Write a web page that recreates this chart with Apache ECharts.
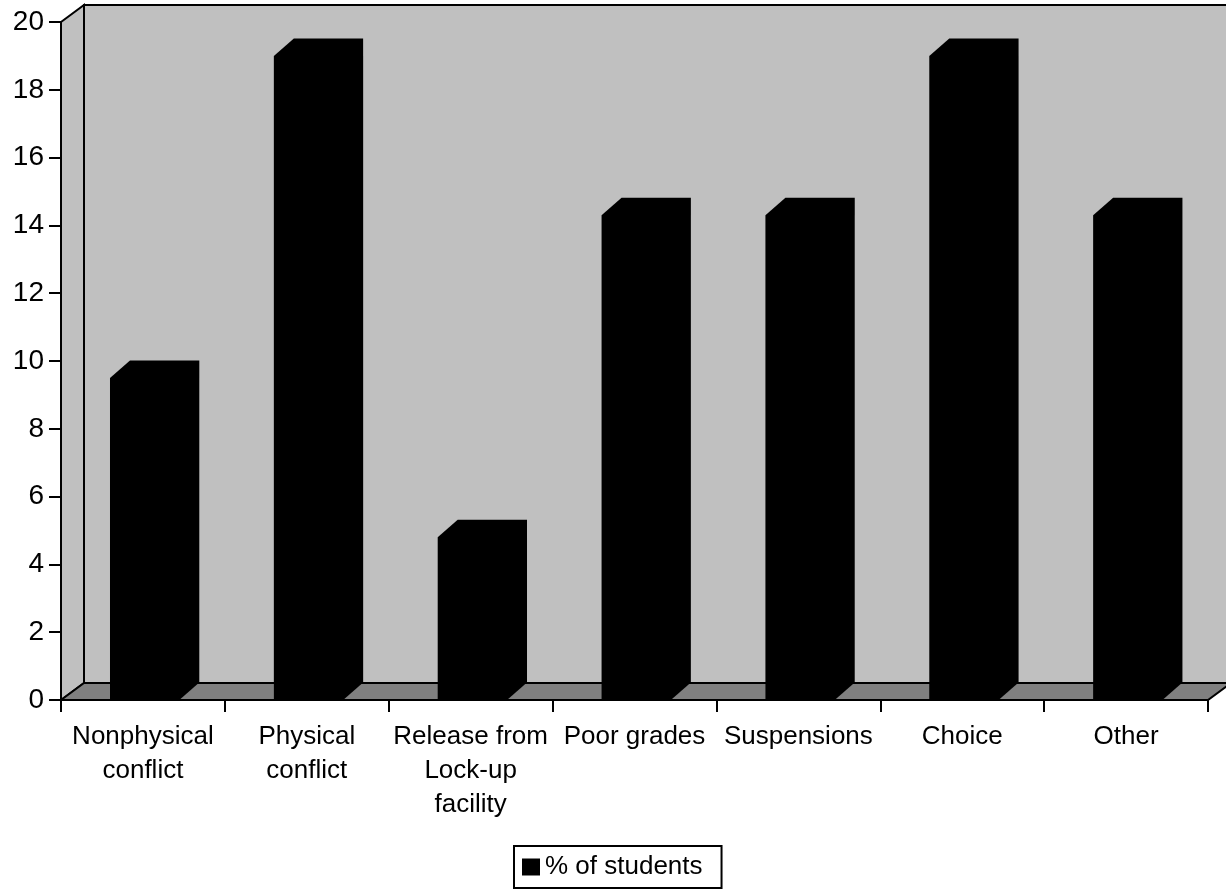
<!DOCTYPE html>
<html>
<head>
<meta charset="utf-8">
<title>% of students</title>
<script src="https://cdn.jsdelivr.net/npm/echarts@6/dist/echarts.min.js"></script>
<style>
  html, body { margin: 0; padding: 0; background: #ffffff; }
  #chart { width: 1226px; height: 894px; }
</style>
</head>
<body>
<div id="chart"></div>
<script>
// Categories along the x axis
const categories = [
  'Nonphysical\nconflict',
  'Physical\nconflict',
  'Release from\nLock-up\nfacility',
  'Poor grades',
  'Suspensions',
  'Choice',
  'Other'
];
// Share of students per reason (%)
const percentStudents = [9.5, 19.0, 4.8, 14.3, 14.3, 19.0, 14.3];
// Value axis range
const yMin = 0;
const yMax = 20;
const yStep = 2;

const seriesName = '% of students';
const FONT = '"Liberation Sans", Arial, sans-serif';

// depth offsets for the pseudo-3D walls
const WALL_DX = 23, WALL_DY = -17;

const chart = echarts.init(document.getElementById('chart'), null, { renderer: 'canvas' });

// back wall, side wall and floor drawn from the grid rectangle
function renderWalls(params, api) {
  const cs = params.coordSys;
  const x0 = cs.x, y0 = cs.y, x1 = cs.x + cs.width, y1 = cs.y + cs.height;
  const line = { stroke: '#000', lineWidth: 2 };
  return {
    type: 'group',
    children: [
      { type: 'rect', shape: { x: x0 + WALL_DX, y: y0 + WALL_DY, width: cs.width, height: cs.height },
        style: Object.assign({ fill: '#c0c0c0' }, line) },
      { type: 'polygon', shape: { points: [[x0, y0], [x0 + WALL_DX, y0 + WALL_DY], [x0 + WALL_DX, y1 + WALL_DY], [x0, y1]] },
        style: Object.assign({ fill: '#c0c0c0' }, line) },
      { type: 'polygon', shape: { points: [[x0, y1], [x0 + WALL_DX, y1 + WALL_DY], [x1 + WALL_DX, y1 + WALL_DY], [x1, y1]] },
        style: Object.assign({ fill: '#808080' }, line) }
    ]
  };
}

// each column as one solid outline: front face plus top and right side in depth
function renderColumn(params, api) {
  const idx = api.value(0);
  const top = api.coord([idx, api.value(1)]);
  const base = api.coord([idx, 0]);
  const bw = api.size([1, 0])[0];
  const L = top[0] - bw * 0.201;
  const R = top[0] + bw * 0.222;
  const dx = bw * 0.122, dy = -17.5;
  const yt = top[1], yb = base[1];
  return {
    type: 'polygon',
    shape: {
      points: [[L, yb], [L, yt], [L + dx, yt + dy], [R + dx, yt + dy], [R + dx, yb + dy], [R, yb]]
    },
    style: { fill: '#000000' }
  };
}

const option = {
  backgroundColor: '#ffffff',
  animation: false,
  textStyle: { fontFamily: FONT },
  grid: { left: 61, right: 18, top: 22, bottom: 194, containLabel: false },
  legend: {
    data: [{ name: seriesName, icon: 'rect' }],
    left: 514,
    top: 846,
    orient: 'horizontal',
    itemWidth: 18,
    itemHeight: 17,
    itemGap: 5,
    padding: [8, 19, 8, 8],
    borderColor: '#000',
    borderWidth: 2,
    borderRadius: 0,
    textStyle: { fontFamily: FONT, fontSize: 26, color: '#000' }
  },
  xAxis: {
    type: 'category',
    data: categories,
    boundaryGap: true,
    z: 5,
    axisLine: { show: true, lineStyle: { color: '#000', width: 2 } },
    axisTick: { show: true, length: 12, inside: false, lineStyle: { color: '#000', width: 2 } },
    axisLabel: { interval: 0, color: '#000', fontSize: 26, fontFamily: FONT, margin: 20, lineHeight: 34 },
    splitLine: { show: false }
  },
  yAxis: {
    type: 'value',
    min: yMin,
    max: yMax,
    interval: yStep,
    z: 5,
    axisLine: { show: true, lineStyle: { color: '#000', width: 2 } },
    axisTick: { show: true, length: 12, lineStyle: { color: '#000', width: 2 } },
    axisLabel: { color: '#000', fontSize: 28, fontFamily: FONT, margin: 17 },
    splitLine: { show: false }
  },
  series: [
    {
      type: 'custom',
      name: 'walls',
      silent: true,
      z: 0,
      renderItem: renderWalls,
      data: [[0, 0]],
      tooltip: { show: false }
    },
    {
      type: 'custom',
      name: seriesName,
      z: 2,
      itemStyle: { color: '#000000' },
      renderItem: renderColumn,
      encode: { x: 0, y: 1 },
      data: percentStudents.map((v, i) => [i, v])
    }
  ]
};

chart.setOption(option);
</script>
</body>
</html>
